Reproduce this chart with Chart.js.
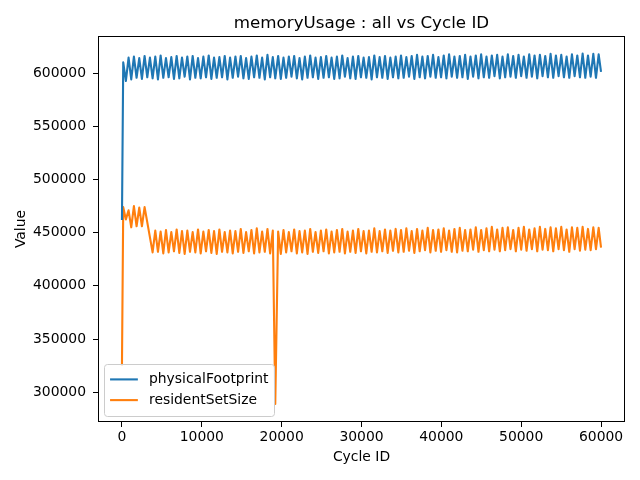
<!DOCTYPE html>
<html>
<head>
<meta charset="utf-8">
<script src="https://cdn.jsdelivr.net/npm/chart.js@4.4.1/dist/chart.umd.min.js"></script>
<style>
  html, body { margin: 0; padding: 0; background: #fff; }
  #chart { display: block; }
</style>
</head>
<body>
<canvas id="chart" width="640" height="480"></canvas>
<script>
// memoryUsage : all vs Cycle ID

const chartTitle = "memoryUsage : all vs Cycle ID";

const cycleIds = [
  0, 160, 494, 829, 1163, 1498, 1832, 2167, 2501, 2836, 3170, 3505, 3839, 4174, 4508,
  4843, 5177, 5512, 5846, 6181, 6515, 6850, 7184, 7519, 7853, 8188, 8522, 8857, 9191,
  9526, 9860, 10195, 10529, 10864, 11198, 11533, 11867, 12202, 12536, 12871, 13205,
  13540, 13874, 14209, 14543, 14878, 15212, 15547, 15881, 16216, 16550, 16885, 17219,
  17554, 17888, 18223, 18557, 18892, 19200, 19561, 19895, 20230, 20564, 20899, 21233,
  21568, 21902, 22237, 22571, 22906, 23240, 23575, 23909, 24244, 24578, 24913, 25247,
  25582, 25916, 26251, 26585, 26920, 27254, 27589, 27923, 28258, 28592, 28927, 29261,
  29596, 29930, 30265, 30599, 30934, 31268, 31603, 31937, 32272, 32606, 32941, 33275,
  33610, 33944, 34279, 34613, 34948, 35282, 35617, 35951, 36286, 36620, 36955, 37289,
  37624, 37958, 38293, 38627, 38962, 39296, 39631, 39965, 40300, 40634, 40969, 41303,
  41638, 41972, 42307, 42641, 42976, 43310, 43645, 43979, 44314, 44648, 44983, 45317,
  45652, 45986, 46321, 46655, 46990, 47324, 47659, 47993, 48328, 48662, 48997, 49331,
  49666, 50000, 50335, 50669, 51004, 51338, 51673, 52007, 52342, 52676, 53011, 53345,
  53680, 54014, 54349, 54683, 55018, 55352, 55687, 56021, 56356, 56690, 57025, 57359,
  57694, 58028, 58363, 58697, 59032, 59366, 59701, 60000
];

const physicalFootprint = [
  462000,
  610000, 592500, 614500, 594000, 615500, 595500, 614000, 594500, 616000, 596000,
  614500, 595000, 615500, 594000, 616500, 595500, 614000, 596000, 615000, 594500,
  616000, 595000, 614500, 596500, 615500, 594000, 616000, 595500, 614000, 595000,
  615500, 596000, 616500, 594500, 614500, 595500, 615000, 596000, 616000, 594000,
  614500, 595500, 615500, 596500, 616000, 595000, 614000, 594500, 615500, 596000,
  616500, 595500, 614500, 594000, 617000, 596000, 615000, 595000, 616000, 594500,
  614500, 595500, 615500, 596500, 616000, 595000, 614000, 594000, 615500, 595500,
  616500, 596000, 614500, 594500, 615000, 595500, 616000, 596000, 614500, 594500,
  615500, 595000, 616500, 596500, 614000, 595000, 615500, 594500, 616000, 596000,
  614500, 595500, 615000, 594000, 616500, 596000, 615000, 595500, 616000, 594500,
  614500, 596000, 615500, 595000, 616500, 595500, 615000, 596500, 616000, 594500,
  617000, 596000, 615500, 595000, 616000, 596500, 617000, 595500, 615000, 596000,
  616500, 595000, 617500, 596500, 615500, 595500, 616000, 596000, 617000, 594500,
  615500, 596500, 616500, 595000, 617500, 596000, 615500, 595500, 616500, 597000,
  617000, 595000, 615500, 596000, 617500, 596500, 616000, 595500, 617000, 597000,
  615500, 595500, 617500, 596500, 616500, 595000, 617000, 597000, 616000, 596000,
  618000, 595500, 616500, 597000, 617000, 596000, 615500, 595500, 617500, 597000,
  616500, 596000, 618300, 595500, 616500, 596500, 618000, 595500,
  617500, 601000
];

const residentSetSize = [
  325000,
  474000, 462500, 471000, 455000, 475000, 456000, 473500, 456000, 474000, null,
  null, 431500, 452000, 432000, 451000, 430500, 452500, 431500, 450500, 432500,
  453000, 431000, 451500, 430000, 452000, 432000, 450500, 431500, 453000, 430500,
  451000, 432500, 452500, 431000, 451500, 430000, 453000, 432000, 450500, 431500,
  452000, 430500, 451500, 432000, 453500, 431000, 450500, 432500, 452500, 430500,
  454000, 431500, 451000, 432000, 453500, 430500, 452000, 289000, 451000, 430000,
  452500, 431500, 450500, 432500, 453000, 430500, 451500, 431500, 452000, 430000,
  453500, 432000, 450500, 431000, 452000, 432500, 453000, 430500, 451000, 431500,
  452500, 432000, 453500, 430500, 451000, 432000, 452000, 431000, 453500, 432500,
  451500, 430500, 452000, 432000, 454000, 431500, 451500, 432500, 453000, 431000,
  452000, 433000, 453500, 431500, 452500, 432000, 454000, 433000, 451500, 431000,
  453500, 432500, 452000, 433500, 454500, 431500, 452500, 433000, 453000, 432000,
  454000, 433500, 452000, 432000, 453500, 431500, 454500, 433000, 452500, 432500,
  453000, 434000, 455000, 432000, 452500, 433500, 454000, 432500, 455500, 434000,
  453000, 432500, 454500, 433500, 455000, 434500, 452500, 432500, 454500, 434000,
  455500, 433000, 453000, 434500, 454000, 432500, 455500, 434000, 453500, 433500,
  455000, 432500, 454000, 434500, 455500, 433500, 453000, 432000, 455000, 434500,
  454500, 433000, 455500, 434000, 453500, 433500, 455000, 434500,
  454500, 436000
];

const seriesNames = ["physicalFootprint", "residentSetSize"];
const seriesColors = ["#1f77b4", "#ff7f0e"];
const xTicks = [0, 10000, 20000, 30000, 40000, 50000, 60000];
const yTicks = [300000, 350000, 400000, 450000, 500000, 550000, 600000];

const FONT = "'DejaVu Sans', sans-serif";
const fs = 13.9;

function toPoints(values) {
  return cycleIds.map((x, i) => ({ x: x, y: values[i] }));
}

// title over the axes, frame round the axes, legend in the lower left corner
const axesDecor = {
  id: "axesDecor",
  afterDraw(chart) {
    const ctx = chart.ctx;
    const a = chart.chartArea;
    ctx.save();

    ctx.font = "16.7px " + FONT;
    ctx.fillStyle = "#000";
    ctx.textAlign = "center";
    ctx.textBaseline = "alphabetic";
    ctx.fillText(chartTitle, (a.left + a.right) / 2, 27.5);

    ctx.strokeStyle = "#000";
    ctx.lineWidth = 1;
    const l = Math.round(a.left) + 0.5, t = Math.round(a.top) + 0.5;
    const r = Math.round(a.right) - 0.5, b = Math.round(a.bottom) - 0.5;
    ctx.strokeRect(l, t, r - l, b - t);

    ctx.font = fs + "px " + FONT;
    const pad = 0.4 * fs, handle = 2.0 * fs, textPad = 0.8 * fs, rowH = 20.7;
    let tw = 0;
    chart.data.datasets.forEach(ds => { tw = Math.max(tw, ctx.measureText(ds.label).width); });
    const w = pad + handle + textPad + tw + pad;
    const h = pad * 2 + rowH * chart.data.datasets.length - 1;
    const bx = Math.round(a.left + 0.45 * fs) + 0.5;
    const by = Math.round(a.bottom - 0.5 * fs - h) + 0.5;

    ctx.beginPath();
    ctx.roundRect(bx, by, Math.round(w), Math.round(h), 3);
    ctx.fillStyle = "rgba(255,255,255,0.8)";
    ctx.fill();
    ctx.strokeStyle = "#cccccc";
    ctx.stroke();

    chart.data.datasets.forEach((ds, i) => {
      const cy = by + pad + rowH * i + rowH / 2 - 1;
      ctx.beginPath();
      ctx.moveTo(bx + pad, cy);
      ctx.lineTo(bx + pad + handle, cy);
      ctx.strokeStyle = ds.borderColor;
      ctx.lineWidth = 2.1;
      ctx.stroke();
      ctx.fillStyle = "#000";
      ctx.textBaseline = "middle";
      ctx.textAlign = "left";
      ctx.fillText(ds.label, bx + pad + handle + textPad, cy);
    });
    ctx.restore();
  }
};

const lineStyle = {
  borderWidth: 2.1,
  borderJoinStyle: "round",
  borderCapStyle: "butt",
  pointRadius: 0,
  tension: 0,
  spanGaps: true
};

new Chart(document.getElementById("chart"), {
  type: "line",
  data: {
    datasets: [
      Object.assign({
        label: seriesNames[0],
        data: toPoints(physicalFootprint),
        borderColor: seriesColors[0]
      }, lineStyle),
      Object.assign({
        label: seriesNames[1],
        data: toPoints(residentSetSize),
        borderColor: seriesColors[1]
      }, lineStyle)
    ]
  },
  options: {
    responsive: false,
    animation: false,
    devicePixelRatio: 1,
    layout: { padding: { left: 0, right: 15, top: 36, bottom: 0 } },
    plugins: {
      legend: { display: false },
      tooltip: { enabled: false },
      title: { display: false }
    },
    scales: {
      x: {
        type: "linear",
        min: -3000,
        max: 63000,
        afterBuildTicks: s => { s.ticks = xTicks.map(v => ({ value: v })); },
        afterFit: s => { s.height = 58; },
        ticks: {
          autoSkip: false,
          maxRotation: 0,
          color: "#000",
          padding: 2,
          font: { family: FONT, size: fs },
          callback: v => String(v)
        },
        grid: { drawOnChartArea: false, drawTicks: true, tickLength: 5, tickColor: "#000" },
        border: { display: false },
        title: {
          display: true,
          text: "Cycle ID",
          color: "#000",
          font: { family: FONT, size: fs },
          padding: { top: 0, bottom: 14.6 }
        }
      },
      y: {
        type: "linear",
        min: 272100,
        max: 634770,
        afterBuildTicks: s => { s.ticks = yTicks.map(v => ({ value: v })); },
        afterFit: s => { s.width = 98; },
        ticks: {
          autoSkip: false,
          color: "#000",
          padding: 7,
          font: { family: FONT, size: fs },
          callback: v => String(v)
        },
        grid: { drawOnChartArea: false, drawTicks: true, tickLength: 5, tickColor: "#000" },
        border: { display: false },
        title: {
          display: true,
          text: "Value",
          color: "#000",
          font: { family: FONT, size: fs },
          padding: { top: 12.7, bottom: 0 }
        }
      }
    }
  },
  plugins: [axesDecor]
});
</script>
</body>
</html>
